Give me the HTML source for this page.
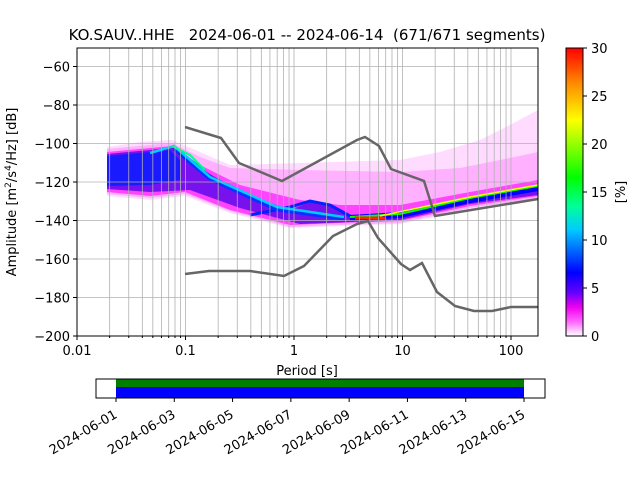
<!DOCTYPE html>
<html><head><meta charset="utf-8"><style>
body{margin:0;background:#fff;}
svg text{font-family:"DejaVu Sans","Liberation Sans",sans-serif;}
</style></head><body>
<svg id="s" width="640" height="480" xmlns="http://www.w3.org/2000/svg">
<defs>
<linearGradient id="cb" x1="0" y1="1" x2="0" y2="0">
<stop offset="0" stop-color="#ffffff"/>
<stop offset="0.05" stop-color="#ff66ff"/>
<stop offset="0.1" stop-color="#ee00ee"/>
<stop offset="0.15" stop-color="#6600ff"/>
<stop offset="0.22" stop-color="#0000ff"/>
<stop offset="0.37" stop-color="#00ccff"/>
<stop offset="0.45" stop-color="#00ff99"/>
<stop offset="0.55" stop-color="#00ff00"/>
<stop offset="0.75" stop-color="#ffff00"/>
<stop offset="0.88" stop-color="#ff8800"/>
<stop offset="1" stop-color="#ff0000"/>
</linearGradient>
</defs>
<text x="307" y="40" font-size="15" text-anchor="middle" xml:space="preserve">KO.SAUV..HHE   2024-06-01 -- 2024-06-14  (671/671 segments)</text>
<g id="data">
<polygon fill="#ffdcff" points="107,147 140,142 172,140 200,152 230,165 300,163 400,160 440,152 480,140 510,125 538,110 538,200 470,210 400,224 340,226 290,228 230,213 185,196 150,200 107,196"/>
<polygon fill="#ffb0ff" points="107,149 172,143 200,157 230,168 300,170 400,172 460,168 500,160 538,152 538,198 470,208 400,223 340,225 290,227 230,211 185,194 150,198 107,194"/>
<polygon fill="#ff44ff" points="107,152 172,146 200,165 240,185 300,200 340,205 400,205 470,192 538,180 538,196 470,206 400,221 340,223 290,225 230,210 185,192 150,196 107,192"/>
<polygon fill="#7711ee" points="107,154 150,150 174,147 195,165 240,192 290,210 310,202 330,205 350,215 400,213 470,197 538,185 538,195 470,204 400,220 350,222 300,224 240,208 190,190 150,192 107,189"/>
<polygon fill="#1a1aff" points="107,156 150,152 170,150 180,160 180,180 150,185 107,186"/>
<polyline fill="none" stroke="#0022ff" stroke-width="3" points="250,215 290,207 310,201 330,205 350,216"/>
<polyline fill="none" stroke="#0033ff" stroke-width="5" points="174,148 210,178 277,209 344,218"/>
<polyline fill="none" stroke="#00ccff" stroke-width="2.5" points="150,153 174,146 210,177 277,207 344,217"/>
<polyline fill="none" stroke="#00ff88" stroke-width="2" points="172,146 190,155 205,170"/>
<polyline fill="none" stroke="#0000ff" stroke-width="6" points="350,218 400,215 470,200 538,188"/>
<polyline fill="none" stroke="#00ff00" stroke-width="2" points="350,217 400,214 470,198 538,186"/>
<polyline fill="none" stroke="#ffff00" stroke-width="1.5" points="380,216 470,197 538,185"/>
<polyline fill="none" stroke="#ff2200" stroke-width="3" points="355,218 385,218"/>
</g>
<g id="grid" stroke="#b0b0b0" stroke-width="0.8"></g>
<polyline fill="none" stroke="#666" stroke-width="2.5" points="185,127 221,138 239,163 282,181 357,140 365,137 379,146 391,169 424,181 435,216 538,199"/>
<polyline fill="none" stroke="#666" stroke-width="2.5" points="185,274 209,271 250,271 284,276 304,266 333,236 357,224 368,221 378,238 401,264 410,270 422,263 437,292 455,306 474,311 492,311 511,307 538,307"/>
<rect x="77" y="48" width="461" height="288" fill="none" stroke="#000" stroke-width="1"/>
<g id="ticks" font-size="13"></g>
<text x="307" y="375" font-size="13" text-anchor="middle">Period [s]</text>
<text transform="translate(16,192) rotate(-90)" font-size="13" text-anchor="middle">Amplitude [m<tspan font-size="9" dy="-5">2</tspan><tspan dy="5">/s</tspan><tspan font-size="9" dy="-5">4</tspan><tspan dy="5">/Hz] [dB]</tspan></text>
<rect x="566" y="48" width="17" height="288" fill="url(#cb)" stroke="#000" stroke-width="1"/>
<g font-size="13">
<text x="591" y="341">0</text><text x="591" y="293">5</text><text x="591" y="245">10</text><text x="591" y="197">15</text><text x="591" y="149">20</text><text x="591" y="101">25</text><text x="591" y="53">30</text>
</g>
<g stroke="#000"><line x1="583" y1="336" x2="587" y2="336"/><line x1="583" y1="288" x2="587" y2="288"/><line x1="583" y1="240" x2="587" y2="240"/><line x1="583" y1="192" x2="587" y2="192"/><line x1="583" y1="144" x2="587" y2="144"/><line x1="583" y1="96" x2="587" y2="96"/><line x1="583" y1="48" x2="587" y2="48"/></g>
<text transform="translate(625,192) rotate(-90)" font-size="13" text-anchor="middle">[%]</text>
<rect x="116" y="379" width="408" height="8" fill="#008000"/>
<rect x="116" y="387" width="408" height="11" fill="#0000ff"/>
<rect x="96" y="379" width="449" height="19" fill="none" stroke="#000"/>
<g id="tl" font-size="13"></g>
</svg>
<script>
var ns="http://www.w3.org/2000/svg";
function el(t,a,p,txt){var e=document.createElementNS(ns,t);for(var k in a)e.setAttribute(k,a[k]);if(txt)e.textContent=txt;document.getElementById(p).appendChild(e);return e;}
function X(p){return 77+(Math.log10(p)+2)*108.5;}
for(var d=-2;d<=2;d++){for(var m=1;m<=9;m++){var x=X(m*Math.pow(10,d));if(x>538)continue;
el("line",{x1:x,y1:48,x2:x,y2:336},"grid");
el("line",{x1:x,y1:336,x2:x,y2:m==1?340:338,stroke:"#000"},"ticks");}}
var labs=["0.01","0.1","1","10","100"];
for(var i=0;i<5;i++)el("text",{x:X(Math.pow(10,i-2)),y:355,"text-anchor":"middle"},"ticks",labs[i]);
for(var v=-200;v<=-60;v+=20){var y=336-(v+200)*1.925;
if(v>-200)el("line",{x1:77,y1:y,x2:538,y2:y},"grid");
el("line",{x1:73,y1:y,x2:77,y2:y,stroke:"#000"},"ticks");
el("text",{x:70,y:y+5,"text-anchor":"end"},"ticks",(v<0?"\u2212":"")+Math.abs(v));}
var dates=["01","03","05","07","09","11","13","15"];
for(var i=0;i<8;i++){var x=116+i*58.29;
el("line",{x1:x,y1:398,x2:x,y2:402,stroke:"#000"},"tl");
el("text",{x:x+2,y:417,"text-anchor":"end",transform:"rotate(-30 "+(x+2)+" 417)"},"tl","2024-06-"+dates[i]);}
</script>
</body></html>
